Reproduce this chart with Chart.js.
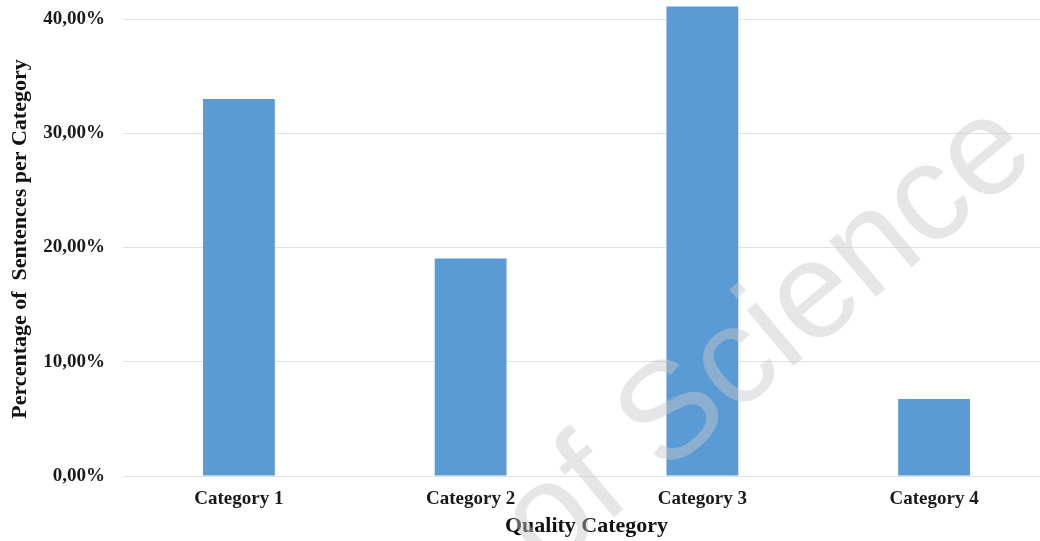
<!DOCTYPE html>
<html>
<head>
<meta charset="utf-8">
<script src="https://cdn.jsdelivr.net/npm/chart.js@4/dist/chart.umd.min.js"></script>
<style>
  html, body { margin: 0; padding: 0; background: #fff; overflow: hidden; }
  #wrap { width: 1050px; height: 541px; }
</style>
</head>
<body>
<div id="wrap"><canvas id="c" width="1050" height="541"></canvas></div>
<script>
// Share of sentences falling into each quality category (percent)
const categories = ['Category 1', 'Category 2', 'Category 3', 'Category 4'];
const sentenceShare = [33.0, 19.05, 41.1, 6.75];
const yTicks = [0, 10, 20, 30, 40];

const serif = '"Liberation Serif", "Times New Roman", serif';

// Faint diagonal watermark across the plot
const watermark = {
  id: 'watermark',
  afterDraw(chart) {
    const ctx = chart.ctx;
    ctx.save();
    ctx.translate(768, 338);
    ctx.rotate(-40 * Math.PI / 180);
    ctx.font = '138px "Liberation Sans", Arial, sans-serif';
    ctx.textAlign = 'center';
    ctx.textBaseline = 'middle';
    ctx.fillStyle = 'rgba(200,200,200,0.45)';
    ctx.fillText('of Science', 0, 0);
    ctx.restore();
  }
};

new Chart(document.getElementById('c'), {
  type: 'bar',
  data: {
    labels: categories,
    datasets: [{
      data: sentenceShare,
      backgroundColor: '#5b9bd5',
      borderWidth: 0,
      barPercentage: 0.31,
      categoryPercentage: 1,
      clip: false
    }]
  },
  options: {
    responsive: false,
    animation: false,
    layout: { padding: { top: 2, left: 0, right: 0, bottom: 0 } },
    plugins: { legend: { display: false }, tooltip: { enabled: false } },
    scales: {
      x: {
        grid: { display: false, drawTicks: false },
        border: { display: false },
        ticks: {
          color: '#1a1a1a',
          padding: 12,
          font: { family: serif, size: 19, weight: 'bold' }
        },
        title: {
          display: true,
          text: 'Quality Category',
          color: '#111',
          padding: { top: 0, bottom: 1 },
          font: { family: serif, size: 22, weight: 'bold' }
        },
        afterFit(s) { s.height = 65; s.paddingLeft = 0; s.paddingRight = 0; }
      },
      y: {
        min: 0,
        max: 41.5,
        grid: { color: '#e2e2e2', lineWidth: 1, drawTicks: false },
        border: { display: false },
        afterBuildTicks(s) { s.ticks = yTicks.map(v => ({ value: v })); },
        ticks: {
          color: '#1a1a1a',
          padding: 18,
          font: { family: serif, size: 19, weight: 'bold' },
          callback: v => v.toFixed(2).replace('.', ',') + '%'
        },
        title: {
          display: true,
          text: 'Percentage of  Sentences per Category',
          color: '#111',
          padding: { top: 7, bottom: 0 },
          font: { family: serif, size: 22, weight: 'bold' }
        },
        afterFit(s) { s.width = 123; s.paddingTop = 0; s.paddingBottom = 0; }
      }
    }
  },
  plugins: [watermark]
});
</script>
</body>
</html>
